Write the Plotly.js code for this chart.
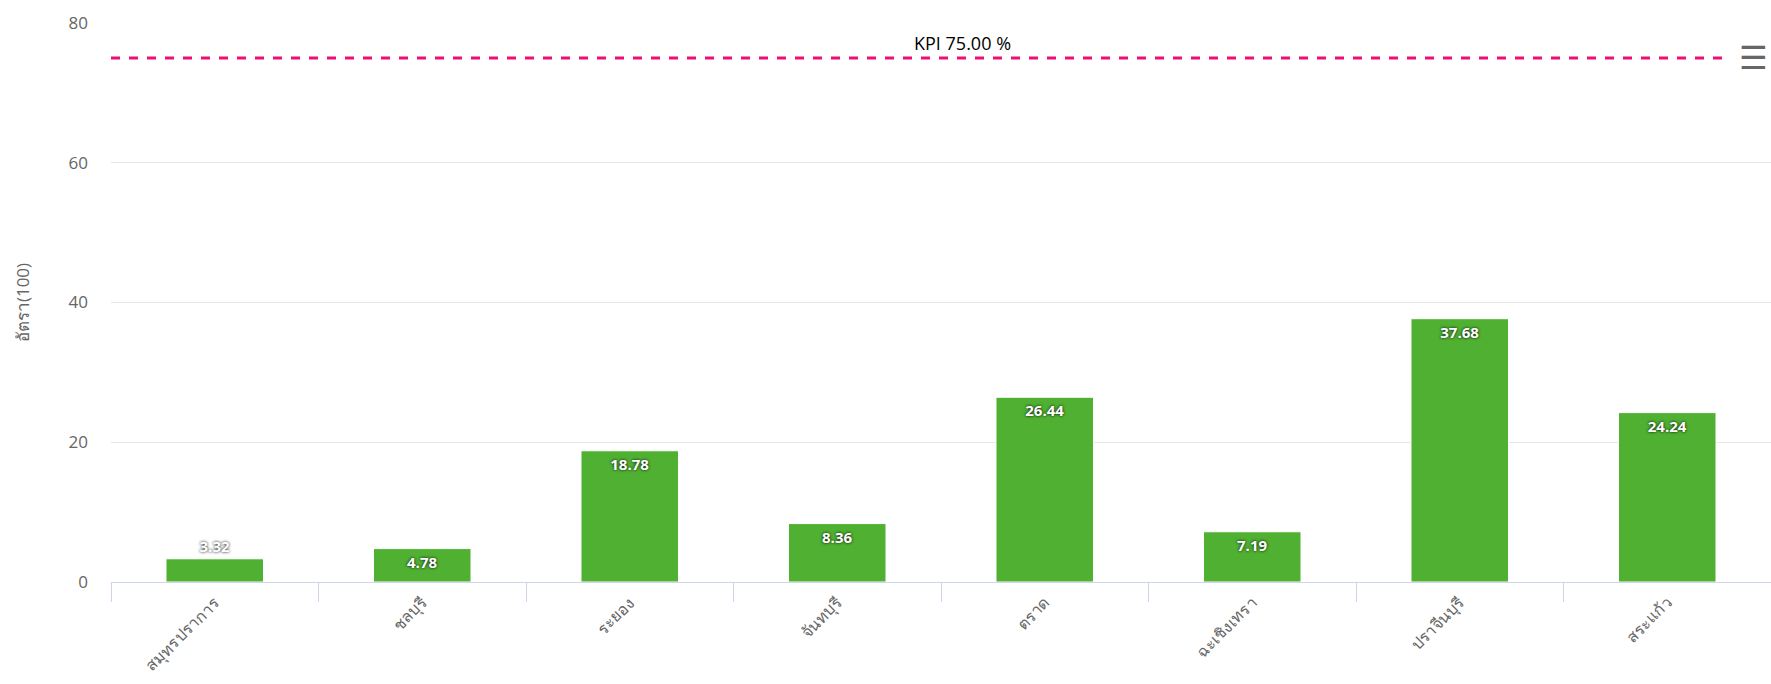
<!DOCTYPE html>
<html>
<head>
<meta charset="utf-8">
<script src="https://cdn.plot.ly/plotly-3.0.1.min.js"></script>
<style>html,body{margin:0;padding:0;background:#fff;}#chart{width:1771px;height:684px;}</style>
</head>
<body>
<div id="chart"></div>
<script>
const provinces = ["สมุทรปราการ", "ชลบุรี", "ระยอง", "จันทบุรี", "ตราด", "ฉะเชิงเทรา", "ปราจีนบุรี", "สระแก้ว"];
const rates = [3.32, 4.78, 18.78, 8.36, 26.44, 7.19, 37.68, 24.24];
const kpiValue = 75;
const kpiLabel = "KPI 75.00 %";
const yAxisTitle = "อัตรา(100)";
const yTicks = [0, 20, 40, 60, 80];

const labelPos = rates.map(v => v < 4 ? "outside" : "inside");

const trace = {
  type: "bar",
  x: provinces,
  y: rates,
  width: 0.47,
  marker: {color: "#50b032", line: {color: "#ffffff", width: 1}},
  text: rates.map(v => v.toFixed(2)),
  textposition: labelPos,
  insidetextanchor: "end",
  textangle: 0,
  cliponaxis: false,
  textfont: {family: "Open Sans, sans-serif", size: 15, color: "#ffffff", weight: 700, shadow: "0px 0px 3px #000"},
  hoverinfo: "x+y"
};

const layout = {
  width: 1771, height: 684,
  margin: {l: 111, r: 0, t: 23, b: 102},
  paper_bgcolor: "#ffffff", plot_bgcolor: "#ffffff",
  showlegend: false,
  font: {family: "Open Sans, Noto Sans, sans-serif", color: "#666666"},
  xaxis: {
    type: "category",
    tickangle: -45,
    tickson: "boundaries",
    ticks: "outside", ticklen: 19, tickcolor: "#ccd6eb", tickwidth: 1,
    showline: true, linecolor: "#ccd6eb", linewidth: 1,
    showgrid: false,
    ticklabelstandoff: 4,
    tickfont: {size: 16, color: "#666666"},
    fixedrange: true
  },
  yaxis: {
    range: [0, 80],
    tickvals: yTicks,
    showgrid: true, gridcolor: "#e6e6e6", gridwidth: 1,
    zeroline: false,
    ticks: "", ticklabelstandoff: 22,
    tickfont: {size: 17, color: "#666666"},
    title: {text: yAxisTitle, font: {size: 17, color: "#666666"}, standoff: 34},
    fixedrange: true
  },
  shapes: [{
    type: "line", xref: "paper", yref: "y",
    x0: 0, x1: 0.975, y0: kpiValue, y1: kpiValue,
    line: {color: "#ed0f74", width: 3, dash: "dash"}
  }],
  annotations: [{
    xref: "paper", yref: "y", x: 0.513, y: kpiValue,
    text: kpiLabel, showarrow: false, yanchor: "bottom", yshift: 1,
    font: {size: 18, color: "#000000", family: "Open Sans, sans-serif"}
  }, {
    xref: "paper", yref: "paper", x: 0.9995, y: 0.975,
    text: "☰", showarrow: false, xanchor: "right",
    font: {size: 32, color: "#666666", family: "DejaVu Sans"}
  }]
};

Plotly.newPlot("chart", [trace], layout, {displayModeBar: false, responsive: false});
</script>
</body>
</html>
